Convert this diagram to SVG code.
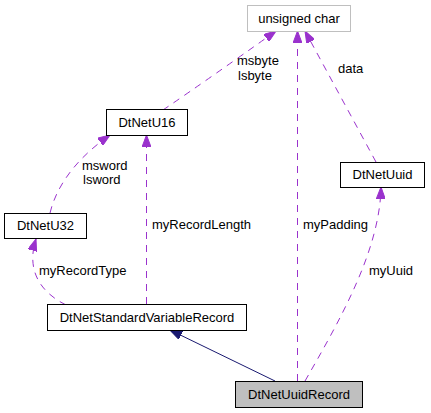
<svg xmlns="http://www.w3.org/2000/svg" width="431" height="413" viewBox="0 0 431 413">
<style>
  .box { fill: #ffffff; stroke: #000000; stroke-width: 1; }
  .ext { fill: #ffffff; stroke: #bfbfbf; stroke-width: 1; }
  .cur { fill: #bfbfbf; stroke: #000000; stroke-width: 1; }
  text { font-family: "Liberation Sans", Arial, sans-serif; font-size: 13px; fill: #000000; }
  .nt { text-anchor: middle; }
  .use { fill: none; stroke: #9a32cd; stroke-width: 1; stroke-dasharray: 7,6; marker-end: url(#pa); }
  .inh { fill: none; stroke: #191970; stroke-width: 1; marker-end: url(#na); }
</style>
<defs>
  <marker id="pa" markerUnits="userSpaceOnUse" markerWidth="12" markerHeight="9" refX="12" refY="4.5" orient="auto">
    <path d="M0,0 L12,4.5 L0,9 z" fill="#9a32cd" stroke="#9a32cd" stroke-width="1"/>
  </marker>
  <marker id="na" markerUnits="userSpaceOnUse" markerWidth="12" markerHeight="9" refX="12" refY="4.5" orient="auto">
    <path d="M0,0 L12,4.5 L0,9 z" fill="#191970" stroke="#191970" stroke-width="1"/>
  </marker>
</defs>
<g id="connectors">
  <path class="use" d="M163,110 Q210,78 276,31"/>
  <path class="use" d="M376,162 L305,31"/>
  <path class="use" d="M297.5,381 L297.5,31"/>
  <path class="use" d="M50,213 C56,188 74,160 110,135"/>
  <path class="use" d="M146.5,304 L146.5,135"/>
  <path class="use" d="M66,305 C40,292 26,270 36,239"/>
  <path class="use" d="M305,381 C340,320 380,250 381,187"/>
  <path class="inh" d="M275,381 L170,330"/>
  <text x="237" y="65">msbyte</text>
  <text x="238" y="80">lsbyte</text>
  <text x="338" y="73">data</text>
  <text x="82" y="170">msword</text>
  <text x="83" y="184">lsword</text>
  <text x="152" y="229">myRecordLength</text>
  <text x="303" y="229">myPadding</text>
  <text x="39" y="275">myRecordType</text>
  <text x="369" y="275">myUuid</text>
</g>
<g id="node-unsigned-char">
  <rect class="ext" x="247.5" y="5.5" width="103" height="26"/>
  <text class="nt" x="299" y="22.5">unsigned char</text>
</g>
<g id="node-DtNetU16">
  <rect class="box" x="106.5" y="109.5" width="81" height="26"/>
  <text class="nt" x="147" y="126.5">DtNetU16</text>
</g>
<g id="node-DtNetUuid">
  <rect class="box" x="340.5" y="162.5" width="84" height="25"/>
  <text class="nt" x="382.5" y="179">DtNetUuid</text>
</g>
<g id="node-DtNetU32">
  <rect class="box" x="4.5" y="213.5" width="82" height="25"/>
  <text class="nt" x="45.5" y="230">DtNetU32</text>
</g>
<g id="node-DtNetStandardVariableRecord">
  <rect class="box" x="47.5" y="304.5" width="199" height="26"/>
  <text class="nt" x="147" y="321.5">DtNetStandardVariableRecord</text>
</g>
<g id="node-DtNetUuidRecord">
  <rect class="cur" x="235.5" y="381.5" width="127" height="26"/>
  <text class="nt" x="299" y="398.5">DtNetUuidRecord</text>
</g>
</svg>
